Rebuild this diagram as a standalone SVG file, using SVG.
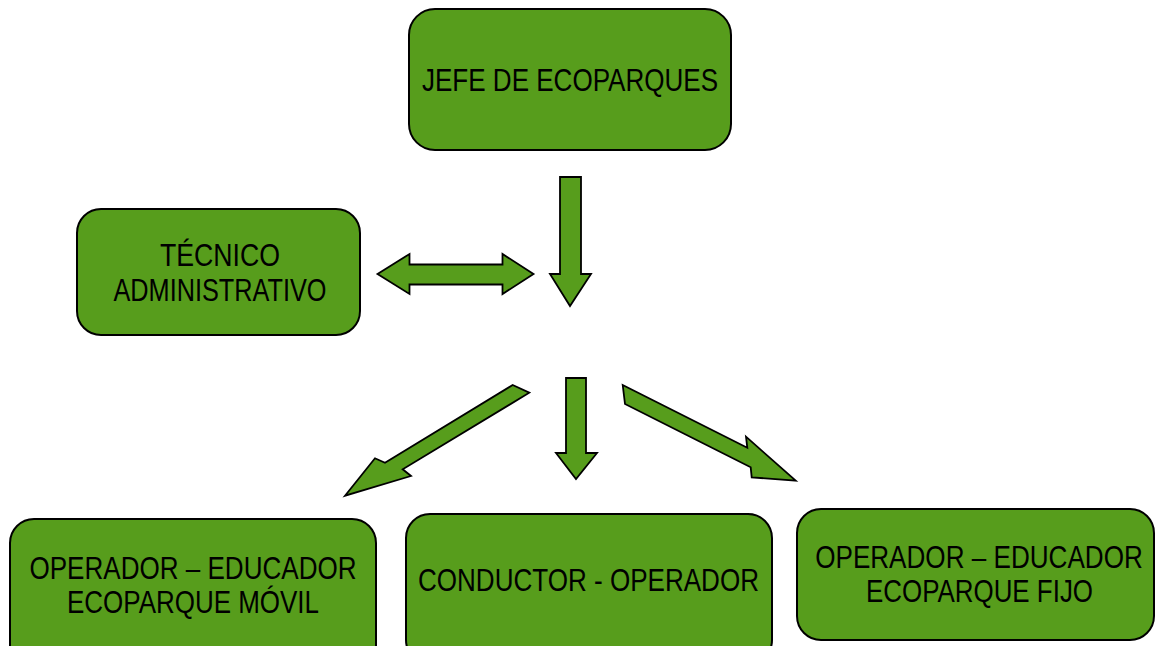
<svg xmlns="http://www.w3.org/2000/svg" width="1155" height="646" viewBox="0 0 1155 646">
<style>
.box{fill:#579d1c;stroke:#000;stroke-width:2}
.arr{fill:#579d1c;stroke:#000;stroke-width:1.8;stroke-linejoin:miter}
.t{font-family:"Liberation Sans Narrow","Arial Narrow","Liberation Sans",Arial,sans-serif;font-size:31px;fill:#000;text-anchor:middle}
</style>
<rect width="1155" height="646" fill="#fff"/>
<g id="jefe">
<rect class="box" x="409" y="9" width="322" height="141" rx="26"/>
<text class="t" x="570" y="91" textLength="296" lengthAdjust="spacingAndGlyphs">JEFE DE ECOPARQUES</text>
</g>
<g id="tecnico">
<rect class="box" x="77" y="209" width="283" height="126" rx="24"/>
<text class="t" x="220" y="266" textLength="120" lengthAdjust="spacingAndGlyphs">TÉCNICO</text>
<text class="t" x="220" y="301" textLength="213" lengthAdjust="spacingAndGlyphs">ADMINISTRATIVO</text>
</g>
<g id="movil">
<rect class="box" x="10" y="519" width="366" height="150" rx="24"/>
<text class="t" x="193" y="579" textLength="327" lengthAdjust="spacingAndGlyphs">OPERADOR – EDUCADOR</text>
<text class="t" x="193" y="613" textLength="252" lengthAdjust="spacingAndGlyphs">ECOPARQUE MÓVIL</text>
</g>
<g id="conductor">
<rect class="box" x="406" y="514" width="366" height="150" rx="24"/>
<text class="t" x="588.5" y="591" textLength="341" lengthAdjust="spacingAndGlyphs">CONDUCTOR - OPERADOR</text>
</g>
<g id="fijo">
<rect class="box" x="797" y="509" width="357" height="131" rx="24"/>
<text class="t" transform="translate(979,568) scale(0.86,1)" x="0" y="0" textLength="381" lengthAdjust="spacingAndGlyphs">OPERADOR – EDUCADOR</text>
<text class="t" x="979.5" y="602" textLength="227" lengthAdjust="spacingAndGlyphs">ECOPARQUE FIJO</text>
</g>
<g id="connectors">
<polygon class="arr" points="560,177 581,177 581,274 591,274 570,306 550,274 560,274"/>
<polygon class="arr" points="377.5,274 409.5,254 409.5,264.5 502.5,264.5 502.5,254 533.5,274 502.5,294 502.5,284.5 409.5,284.5 409.5,294"/>
<polygon class="arr" points="566,378 586,378 586,453 597,453 576,479 556,453 566,453"/>
<polygon class="arr" points="512.7,385 529.3,392.7 402.7,469.3 411,476 345,495.7 375,458.3 385,462.7"/>
<polygon class="arr" points="622.7,385 625,404 750.7,467.3 751.7,477.3 795.7,480.7 746,436.7 747.3,447.7"/>
</g>
</svg>
